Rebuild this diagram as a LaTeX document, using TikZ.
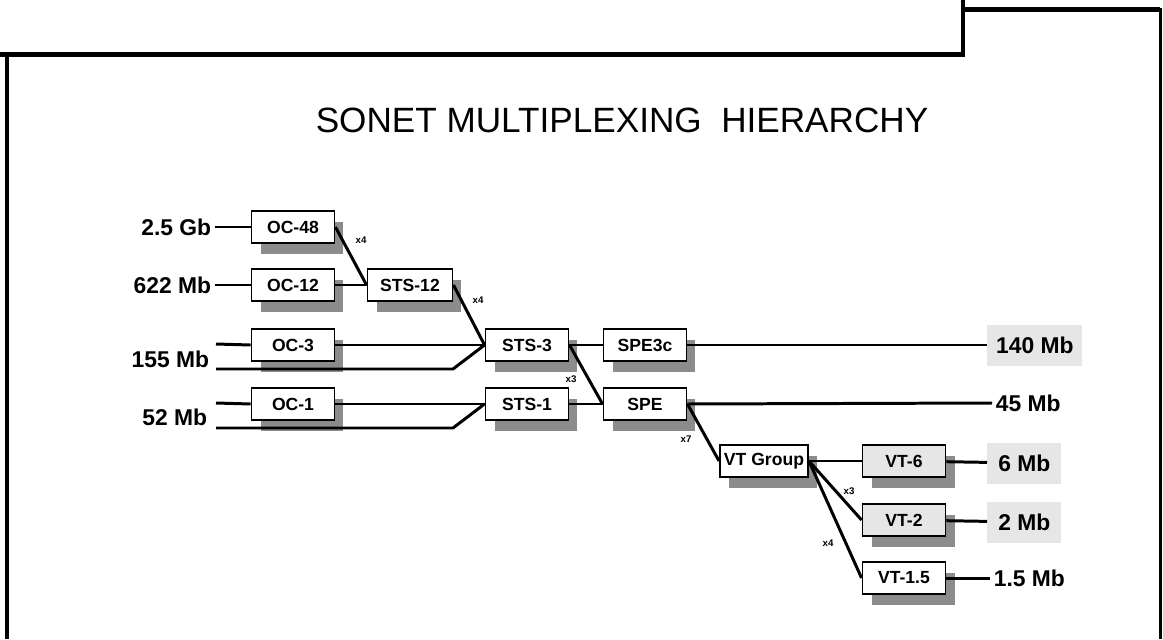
\documentclass[tikz,border=0pt]{standalone}
\usepackage{fontspec}
\setmainfont{Liberation Sans}
\usepackage{tikz}
\usetikzlibrary{calc, positioning, shadows}
\usepackage{xcolor}
\definecolor{shade}{RGB}{140, 140, 140}
\definecolor{paleg}{RGB}{230, 230, 230}

\tikzset{
  unit/.style={draw, line width=1.1pt, fill=white, inner sep=0pt,
    minimum width=1.66cm, minimum height=0.64cm,
    font=\fontsize{10}{12}\bfseries\selectfont,
    drop shadow={shadow xshift=0.18cm, shadow yshift=-0.22cm, fill=shade, opacity=1}},
  rate/.style={inner sep=2pt, font=\fontsize{13}{15}\bfseries\selectfont},
  mult/.style={inner sep=0pt, font=\fontsize{5.5}{6}\bfseries\selectfont},
  link/.style={line width=1.7pt},
}

\begin{document}
\begin{tikzpicture}[x=0.02cm, y=-0.02cm]
  \useasboundingbox (0,0) rectangle (1163,639);
  % Frame
  \draw[line width=2.8pt] (0,54.5) -- (963,54.5) -- (963,0);
  \draw[line width=2.8pt] (7,55) -- (7,639);
  \draw[line width=2.8pt] (965,9.5) -- (1160,9.5);
  \draw[line width=1.7pt] (1160,8) -- (1160,639);
  \node[font=\fontsize{20}{24}\selectfont] (title) at (622,120) {SONET MULTIPLEXING\ \ HIERARCHY};

  % Optical carriers
  \foreach \y/\n/\t in {227/oc48/OC-48, 285/oc12/OC-12, 345/oc3/OC-3, 404/oc1/OC-1}
    \node[unit] (\n) at (293,\y) {\t};
  \node[rate, anchor=east] (r25) at (215,227) {2.5 Gb};
  \node[rate, anchor=east] (r622) at (215,285) {622 Mb};
  \node[rate, anchor=east] (r155) at (213,359) {155 Mb};
  \node[rate, anchor=east] (r52) at (211,417) {52 Mb};
  \coordinate (in155a) at (216,344);
  \coordinate (in155b) at (216,369);
  \coordinate (bend155) at (453,369);
  \coordinate (in52a) at (216,403);
  \coordinate (in52b) at (216,428);
  \coordinate (bend52) at (453,428);

  % STS and SPE
  \node[unit, minimum width=1.7cm] (sts12) at (410,285) {STS-12};
  \node[unit] (sts3) at (527,345) {STS-3};
  \node[unit] (sts1) at (527,404) {STS-1};
  \node[unit] (spe3c) at (645,345) {SPE3c};
  \node[unit] (spe) at (645,404) {SPE};

  % Virtual tributaries
  \node[unit, minimum width=1.76cm] (vtg) at (764,461) {VT Group};
  \node[unit, fill=paleg] (vt6) at (904,461) {VT-6};
  \node[unit, fill=paleg] (vt2) at (904,520) {VT-2};
  \node[unit] (vt15) at (904,578) {VT-1.5};

  % Outputs
  \node[rate, fill=paleg, minimum width=1.9cm, minimum height=0.82cm, anchor=west] (r140) at (987,345) {140 Mb};
  \node[rate, anchor=west] (r45) at (992,403) {45 Mb};
  \node[rate, fill=paleg, minimum width=1.48cm, minimum height=0.82cm, anchor=west] (r6) at (987,463) {6 Mb};
  \node[rate, fill=paleg, minimum width=1.48cm, minimum height=0.82cm, anchor=west] (r2) at (987,522) {2 Mb};
  \node[rate, anchor=west] (r15) at (990,578) {1.5 Mb};

  % Multipliers
  \node[mult] (m1) at (361,240) {x4};
  \node[mult] (m2) at (478,300) {x4};
  \node[mult] (m3) at (571,379) {x3};
  \node[mult] (m4) at (686,439) {x7};
  \node[mult] (m5) at (849,491) {x3};
  \node[mult] (m6) at (828,543) {x4};

  % Links
  \draw[link] (r25) -- (oc48);
  \draw[link] (r622) -- (oc12);
  \draw[link] (oc48.east) -- (sts12.west);
  \draw[link] (oc12) -- (sts12);
  \draw[link] (sts12.east) -- (sts3.west);
  \draw[link] (in155a) -- (oc3.west);
  \draw[link] (oc3.east) -- (sts3.west);
  \draw[link] (in155b) -- (bend155) -- (sts3.west);
  \draw[link] (in52a) -- (oc1.west);
  \draw[link] (oc1.east) -- (sts1.west);
  \draw[link] (in52b) -- (bend52) -- (sts1.west);
  \draw[link] (sts3) -- (spe3c);
  \draw[link] (spe3c) -- (r140);
  \draw[link] (sts3.east) -- (spe.west);
  \draw[link] (sts1) -- (spe);
  \draw[link] (spe.east) -- (r45.west);
  \draw[link] (spe.east) -- (vtg.west);
  \draw[link] (vtg.east) -- (vt6.west);
  \draw[link] (vtg.east) -- (vt2.west);
  \draw[link] (vtg.east) -- (vt15.west);
  \draw[link] (vt6) -- (r6);
  \draw[link] (vt2) -- (r2);
  \draw[link] (vt15) -- (r15);
\end{tikzpicture}
\end{document}
